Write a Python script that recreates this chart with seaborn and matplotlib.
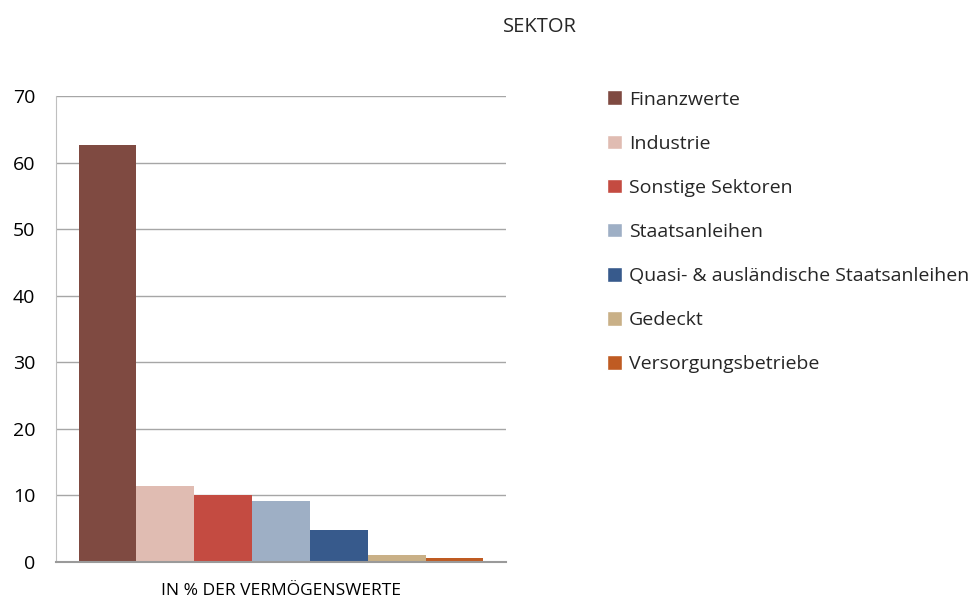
import pandas as pd
import seaborn as sns
import matplotlib.pyplot as plt
from matplotlib.patches import Patch

# Data
sectors = ["Finanzwerte", "Industrie", "Sonstige Sektoren", "Staatsanleihen",
           "Quasi- & ausländische Staatsanleihen", "Gedeckt", "Versorgungsbetriebe"]
values = [62.6, 11.4, 10.0, 9.2, 4.8, 1.05, 0.6]
colors = ["#7f4a41", "#e0bcb2", "#c44b41", "#9eafc5", "#375a8c", "#c9b087", "#bf5b22"]
category = "IN % DER VERMÖGENSWERTE"

df = pd.DataFrame({"cat": [category] * len(sectors), "sector": sectors, "value": values})

sns.set_style("white")
plt.rcParams['font.family'] = ['Open Sans', 'DejaVu Sans']

fig = plt.figure(figsize=(9.74, 5.99), dpi=100)
ax = fig.add_axes([0.0575, 0.0618, 0.462, 0.778])

sns.barplot(data=df, x="cat", y="value", hue="sector", hue_order=sectors,
            palette=colors, width=0.9, saturation=1, linewidth=0,
            ax=ax, legend=False)

ax.set_ylim(0, 70)
ax.set_yticks(range(0, 71, 10))
ax.set_xlim(-0.5, 0.5)
ax.yaxis.grid(True, color="#a6a6a6", linewidth=1)
ax.set_axisbelow(True)
for side in ["top", "right"]:
    ax.spines[side].set_visible(False)
ax.spines["left"].set_color("#bfbfbf")
ax.spines["bottom"].set_color("#9a9a9a")
ax.spines["bottom"].set_linewidth(1.5)
ax.tick_params(axis="both", length=0, labelsize=14, colors="#000000")
ax.tick_params(axis="y", pad=15)
ax.tick_params(axis="x", pad=15, labelsize=12.5)
ax.set_xlabel("")
ax.set_ylabel("")

handles = [Patch(facecolor=c, label=s) for s, c in zip(sectors, colors)]
fig.legend(handles=handles, loc="upper left", bbox_to_anchor=(0.615, 0.862),
           frameon=False, fontsize=14, handlelength=0.78, handleheight=0.78,
           handletextpad=0.35, labelspacing=1.34, borderaxespad=0)

fig.text(0.554, 0.955, "SEKTOR", ha="center", va="center", fontsize=14.5)

fig.savefig("out.png", dpi=100)
